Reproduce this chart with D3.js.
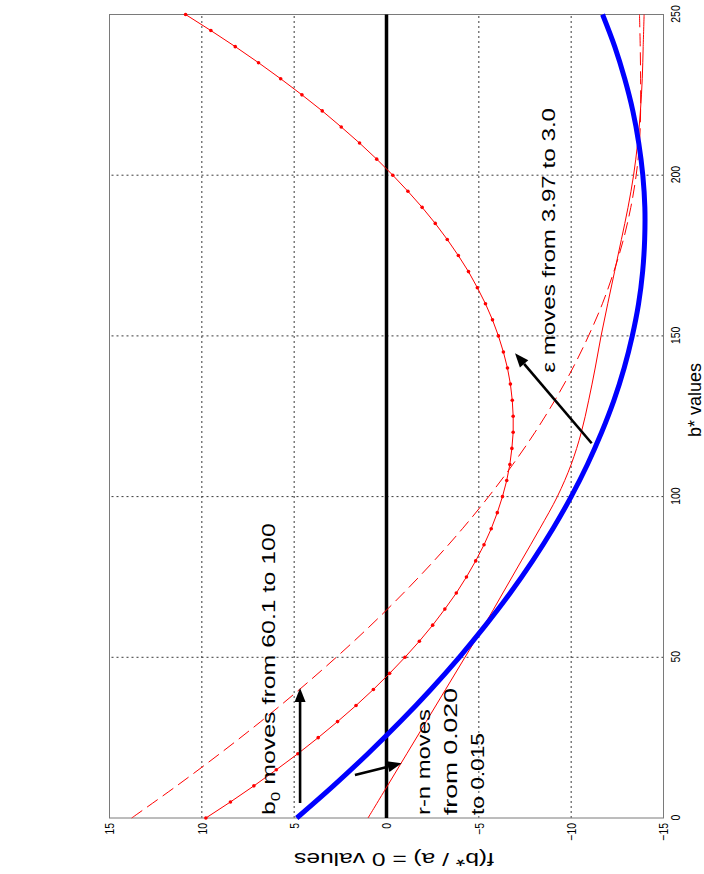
<!DOCTYPE html>
<html><head><meta charset="utf-8">
<script src="https://cdn.jsdelivr.net/npm/d3@7"></script>
<style>body{margin:0;background:#fff;overflow:hidden} svg{display:block}</style>
</head><body>
<script>
// ---------- data ----------
const bStar = [0,10,20,30,40,50,60,70,80,90,100,110,120,130,140,150,160,170,180,190,200,210,220,230,240,250];
const blueF = [4.86,2.88,1.01,-0.75,-2.40,-3.94,-5.37,-6.70,-7.91,-9.01,-10.00,-10.88,-11.65,-12.32,-12.87,-13.31,-13.65,-13.87,-13.98,-13.99,-13.88,-13.66,-13.34,-12.90,-12.36,-11.70];
const dashedF = [13.80,11.36,9.03,6.81,4.71,2.72,0.84,-0.92,-2.57,-4.11,-5.53,-6.84,-8.04,-9.12,-10.09,-10.94,-11.69,-12.31,-12.83,-13.23,-13.52,-13.70,-13.76,-13.76,-13.74,-13.70];
const solidF = [1.00,-0.05,-1.10,-2.15,-3.20,-4.25,-5.30,-6.30,-7.30,-8.30,-9.25,-10.00,-10.55,-10.95,-11.30,-11.62,-11.98,-12.35,-12.72,-13.08,-13.38,-13.60,-13.75,-13.85,-13.90,-13.95];
const dotB = [0,5,10,15,20,25,30,35,40,45,50,55,60,65,70,75,80,85,90,95,100,105,110,115,120,125,130,135,140,145,150,155,160,165,170,175,180,185,190,195,200,205,210,215,220,225,230,235,240,245,250];
const dotF = [9.78,8.45,7.18,5.97,4.80,3.70,2.65,1.65,0.71,-0.17,-1.00,-1.78,-2.50,-3.16,-3.78,-4.33,-4.83,-5.28,-5.67,-6.00,-6.28,-6.51,-6.68,-6.79,-6.86,-6.86,-6.81,-6.71,-6.55,-6.33,-6.06,-5.74,-5.36,-4.92,-4.44,-3.89,-3.29,-2.64,-1.93,-1.16,-0.34,0.53,1.46,2.45,3.48,4.58,5.73,6.93,8.19,9.51,10.88];
const zeroB = [0,250];
const zeroF = [0,0];
const xTicks = [0,50,100,150,200,250];
const yTicks = [-15,-10,-5,0,5,10,15];
const xGrid = [50,100,150,200];
const yGrid = [-10,-5,0,5,10];

// ---------- layout (figure drawn unrotated, then turned 90deg CCW) ----------
const W = 704, H = 874;
const svg = d3.select("body").append("svg").attr("width", W).attr("height", H);
svg.append("rect").attr("width", W).attr("height", H).attr("fill", "#fff");
const g = svg.append("g").attr("transform", `translate(0,${H}) rotate(-90)`);

const x = d3.scaleLinear().domain([0,250]).range([56,859.5]);
const y = d3.scaleLinear().domain([-15,15]).range([663.5,109.5]);
const FONT = "'Liberation Sans', Arial, Helvetica, sans-serif";

// grid
const gridStyle = s => s.attr("stroke","#3a3a3a").attr("stroke-width",1).attr("stroke-dasharray","2,3").attr("fill","none");
g.append("g").selectAll("line").data(xGrid).join("line")
  .attr("x1", d=>x(d)).attr("x2", d=>x(d)).attr("y1", y(-15)).attr("y2", y(15)).call(gridStyle);
g.append("g").selectAll("line").data(yGrid).join("line")
  .attr("x1", x(0)).attr("x2", x(250)).attr("y1", d=>y(d)).attr("y2", d=>y(d)).call(gridStyle);

// axes (labels only)
const xa = g.append("g").attr("transform", `translate(0,${y(-15)})`)
  .call(d3.axisBottom(x).tickValues(xTicks).tickSize(0).tickPadding(7).tickFormat(d3.format("d")));
const ya = g.append("g").attr("transform", `translate(${x(0)},0)`)
  .call(d3.axisLeft(y).tickValues(yTicks).tickSize(0).tickPadding(5).tickFormat(d3.format("d")));
[xa, ya].forEach(a => { a.select(".domain").remove();
  a.selectAll("text").attr("font-family", FONT).attr("font-size", 13).attr("fill","#000"); });
xa.selectAll("text").attr("transform","scale(0.8,1)");
ya.selectAll("text").each(function(){ const t=d3.select(this); const xx=+t.attr("x"); t.attr("x",0).attr("transform",`translate(${xx},0) scale(0.8,1)`); });

// box
g.append("rect").attr("x", x(0)).attr("y", y(15)).attr("width", x(250)-x(0)).attr("height", y(-15)-y(15))
  .attr("fill","none").attr("stroke","#7a7a7a").attr("stroke-width",1);

const line = d3.line().x(d=>x(d[0])).y(d=>y(d[1]));
const pairs = (bs, fs) => bs.map((b,i)=>[b, fs[i]]);

// zero line
g.append("path").datum(pairs(zeroB, zeroF)).attr("d", line).attr("stroke","#000").attr("stroke-width",3.5).attr("fill","none");
// red dashed
g.append("path").datum(pairs(bStar, dashedF)).attr("d", line.curve(d3.curveCatmullRom))
  .attr("stroke","#ff0000").attr("stroke-width",1).attr("stroke-dasharray","13,6").attr("fill","none");
// red thin solid
g.append("path").datum(pairs(bStar, solidF)).attr("d", line.curve(d3.curveCatmullRom))
  .attr("stroke","#ff0000").attr("stroke-width",1).attr("fill","none");
// red dotted (line + markers)
g.append("path").datum(pairs(dotB, dotF)).attr("d", line.curve(d3.curveLinear))
  .attr("stroke","#ff0000").attr("stroke-width",1).attr("fill","none");
g.append("g").selectAll("circle").data(pairs(dotB, dotF)).join("circle")
  .attr("cx", d=>x(d[0])).attr("cy", d=>y(d[1])).attr("r",1.8).attr("fill","#ff0000");
// blue
g.append("path").datum(pairs(bStar, blueF)).attr("d", line.curve(d3.curveCatmullRom))
  .attr("stroke","#0000ff").attr("stroke-width",5).attr("fill","none");

// arrows
function arrow(b1,f1,b2,f2){
  const x1=x(b1), y1=y(f1), x2=x(b2), y2=y(f2);
  const a=Math.atan2(y2-y1,x2-x1), L=14, Wd=5.5;
  const bx=x2-L*Math.cos(a), by=y2-L*Math.sin(a);
  g.append("line").attr("x1",x1).attr("y1",y1).attr("x2",bx).attr("y2",by).attr("stroke","#000").attr("stroke-width",2.6);
  g.append("path").attr("d",`M${x2},${y2}L${bx-Wd*Math.sin(a)},${by+Wd*Math.cos(a)}L${bx+Wd*Math.sin(a)},${by-Wd*Math.cos(a)}Z`).attr("fill","#000");
}
arrow(4.67, 4.68, 40.45, 4.68);
arrow(13.38, 1.71, 17.02, -0.82);
arrow(116.6, -11.11, 144.6, -6.96);

// text helper: place text at px (X,Y), fit to length
function label(X, Y, size, len, build, rot){
  const t = g.append("text").attr("font-family", FONT).attr("font-size", size).attr("fill","#000");
  build(t);
  const w = t.node().getComputedTextLength();
  const sx = len ? len / w : 1;
  t.attr("transform", `translate(${X},${Y})${rot?` rotate(${rot})`:""} scale(${sx},1)`);
  return t;
}
label(x(0.93), y(6.04), 19, 292, t => { t.append("tspan").text("b");
  t.append("tspan").attr("font-size",13).attr("dy",5).text("0");
  t.append("tspan").attr("dy",-5).text(" moves from 60.1  to 100"); });
label(x(138.5), y(-9.12), 19, 265, t => t.text("\u03b5 moves from 3.97 to 3.0"));
label(x(0.93), 430, 19, 106, t => t.text("r-n moves"));
label(x(0.93), 457, 19, 127, t => t.text("from 0.020"));
label(x(0.93), 484, 19, 82, t => t.text("to 0.015"));

// axis titles
label(474, 701, 18, 0, t => t.attr("text-anchor","middle").text("b* values"));
label(21, 394, 19, 200, t => t.attr("text-anchor","middle").text("f(b* / a) = 0 values"), -90);
</script>
</body></html>
